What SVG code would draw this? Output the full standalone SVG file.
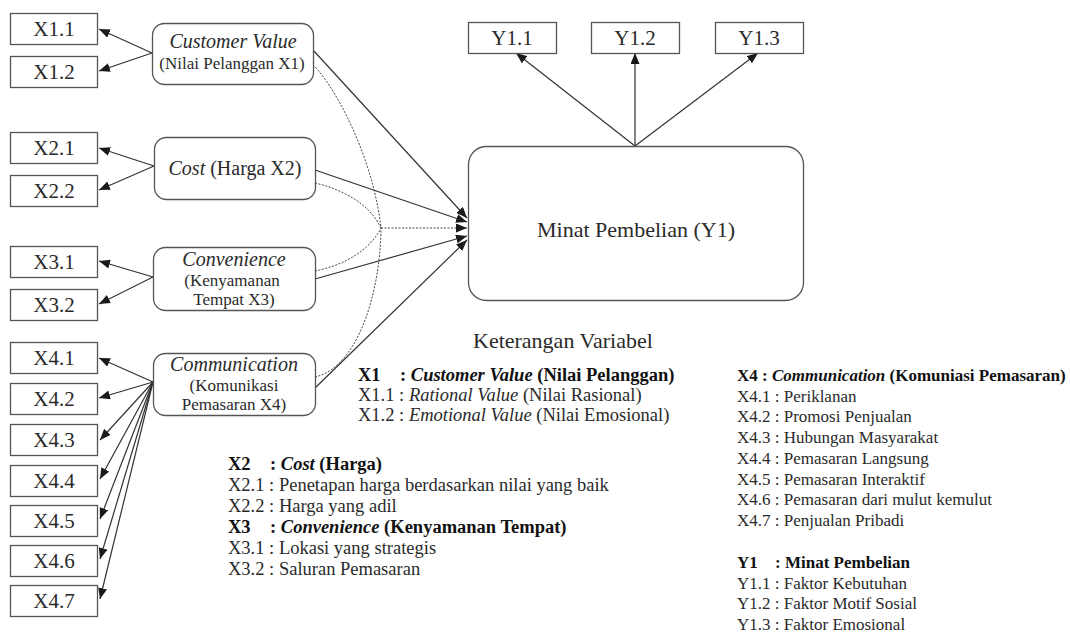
<svg xmlns="http://www.w3.org/2000/svg" width="1070" height="632" viewBox="0 0 1070 632">
<defs>
<style>
.box{fill:#fff;stroke:#555;stroke-width:1.3}
.node{fill:#fff;stroke:#555;stroke-width:1.3}
.t{font-family:"Liberation Serif","Times New Roman",serif;fill:#2a2a2a}
.bl{font-size:21px;text-anchor:middle}
.n1{font-size:20px;text-anchor:middle;font-style:italic}
.n2{font-size:17px;text-anchor:middle}
.lg{font-size:18.5px}
.lg2{font-size:17px}
.b{font-weight:bold;fill:#111}
.i{font-style:italic}
.ln{fill:none;stroke:#333;stroke-width:1.2}
.dt{fill:none;stroke:#444;stroke-width:1;stroke-dasharray:2 1.5}
</style>
<marker id="ah" markerUnits="userSpaceOnUse" markerWidth="12" markerHeight="9" refX="11" refY="4.5" orient="auto">
<path d="M0,0 L11,4.5 L0,9 z" fill="#1a1a1a"/>
</marker>
</defs>
<rect width="1070" height="632" fill="#fff"/>

<g id="connectors">
<line class="ln" x1="152" y1="53" x2="99" y2="29" marker-end="url(#ah)"/>
<line class="ln" x1="152" y1="53" x2="99" y2="71" marker-end="url(#ah)"/>
<line class="ln" x1="154" y1="166" x2="99" y2="148" marker-end="url(#ah)"/>
<line class="ln" x1="154" y1="166" x2="99" y2="190" marker-end="url(#ah)"/>
<line class="ln" x1="153" y1="277" x2="99" y2="261" marker-end="url(#ah)"/>
<line class="ln" x1="153" y1="277" x2="99" y2="304" marker-end="url(#ah)"/>
<line class="ln" x1="153" y1="382" x2="99" y2="358" marker-end="url(#ah)"/>
<line class="ln" x1="153" y1="382" x2="99" y2="398" marker-end="url(#ah)"/>
<line class="ln" x1="153" y1="382" x2="100" y2="440" marker-end="url(#ah)"/>
<line class="ln" x1="153" y1="382" x2="100" y2="479" marker-end="url(#ah)"/>
<line class="ln" x1="153" y1="382" x2="100" y2="519" marker-end="url(#ah)"/>
<line class="ln" x1="153" y1="382" x2="100" y2="559" marker-end="url(#ah)"/>
<line class="ln" x1="153" y1="382" x2="100" y2="599" marker-end="url(#ah)"/>
<line class="ln" x1="313" y1="50" x2="467" y2="218" marker-end="url(#ah)"/>
<line class="ln" x1="315" y1="170" x2="467" y2="222" marker-end="url(#ah)"/>
<line class="ln" x1="315" y1="279" x2="467" y2="236" marker-end="url(#ah)"/>
<line class="ln" x1="315" y1="388" x2="467" y2="240" marker-end="url(#ah)"/>
<path class="dt" d="M313,65 C330,80 372,150 381,228"/>
<path class="dt" d="M315,377 C355,368 380,300 381,228"/>
<path class="dt" d="M315,183 C345,190 370,205 381,228"/>
<path class="dt" d="M315,271 C345,265 370,250 381,228"/>
<line class="dt" x1="381" y1="228" x2="467" y2="228" marker-end="url(#ah)"/>
<line class="ln" x1="635" y1="146" x2="516" y2="53" marker-end="url(#ah)"/>
<line class="ln" x1="635" y1="146" x2="635" y2="53" marker-end="url(#ah)"/>
<line class="ln" x1="635" y1="146" x2="758" y2="53" marker-end="url(#ah)"/>
</g>

<g id="n-x11"><rect class="box" x="10.5" y="13.5" width="87" height="31"/><text class="t bl" x="54" y="36">X1.1</text></g>
<g id="n-x12"><rect class="box" x="10.5" y="56.5" width="87" height="31"/><text class="t bl" x="54" y="79">X1.2</text></g>
<g id="n-x21"><rect class="box" x="10.5" y="132.5" width="87" height="31"/><text class="t bl" x="54" y="155">X2.1</text></g>
<g id="n-x22"><rect class="box" x="10.5" y="175.5" width="87" height="31"/><text class="t bl" x="54" y="198">X2.2</text></g>
<g id="n-x31"><rect class="box" x="10.5" y="246.5" width="87" height="31"/><text class="t bl" x="54" y="269">X3.1</text></g>
<g id="n-x32"><rect class="box" x="10.5" y="289.5" width="87" height="31"/><text class="t bl" x="54" y="312">X3.2</text></g>
<g id="n-x41"><rect class="box" x="10.5" y="342.5" width="87" height="31"/><text class="t bl" x="54" y="365">X4.1</text></g>
<g id="n-x42"><rect class="box" x="10.5" y="383.5" width="87" height="31"/><text class="t bl" x="54" y="406">X4.2</text></g>
<g id="n-x43"><rect class="box" x="10.5" y="424.5" width="87" height="31"/><text class="t bl" x="54" y="447">X4.3</text></g>
<g id="n-x44"><rect class="box" x="10.5" y="465.5" width="87" height="31"/><text class="t bl" x="54" y="488">X4.4</text></g>
<g id="n-x45"><rect class="box" x="10.5" y="505.5" width="87" height="31"/><text class="t bl" x="54" y="528">X4.5</text></g>
<g id="n-x46"><rect class="box" x="10.5" y="545.5" width="87" height="31"/><text class="t bl" x="54" y="568">X4.6</text></g>
<g id="n-x47"><rect class="box" x="10.5" y="585.5" width="87" height="31"/><text class="t bl" x="54" y="608">X4.7</text></g>

<g id="n-x1"><rect class="node" x="152.5" y="23.5" width="161" height="61" rx="12"/>
<text class="t n1" x="233" y="48">Customer Value</text><text class="t n2" x="232" y="69">(Nilai Pelanggan X1)</text></g>
<g id="n-x2"><rect class="node" x="154.5" y="137.5" width="161" height="62" rx="12"/>
<text class="t" x="235" y="175" style="font-size:20px;text-anchor:middle"><tspan class="i">Cost</tspan> (Harga X2)</text></g>
<g id="n-x3"><rect class="node" x="153.5" y="247.5" width="162" height="63" rx="12"/>
<text class="t n1" x="234" y="266">Convenience</text><text class="t n2" x="232" y="286">(Kenyamanan</text><text class="t n2" x="234" y="305">Tempat X3)</text></g>
<g id="n-x4"><rect class="node" x="153.5" y="353.5" width="162" height="62" rx="12"/>
<text class="t n1" x="234" y="371">Communication</text><text class="t n2" x="234" y="391">(Komunikasi</text><text class="t n2" x="234" y="410">Pemasaran X4)</text></g>

<g id="n-y1"><rect class="node" x="468.5" y="146.5" width="335" height="154" rx="18"/>
<text class="t" x="636" y="237" style="font-size:22px;text-anchor:middle">Minat Pembelian (Y1)</text></g>
<g id="n-y11"><rect class="box" x="468.5" y="22.5" width="88" height="31"/><text class="t bl" x="512" y="45">Y1.1</text></g>
<g id="n-y12"><rect class="box" x="591.5" y="22.5" width="88" height="31"/><text class="t bl" x="635" y="45">Y1.2</text></g>
<g id="n-y13"><rect class="box" x="715.5" y="22.5" width="88" height="31"/><text class="t bl" x="759" y="45">Y1.3</text></g>

<g id="legend">
<text class="t" x="473" y="348" style="font-size:22px">Keterangan Variabel</text>
<text class="t lg b" x="358" y="381">X1<tspan x="400">: <tspan class="i">Customer Value</tspan> (Nilai Pelanggan)</tspan></text>
<text class="t lg" x="358" y="401">X1.1 : <tspan class="i">Rational Value</tspan> (Nilai Rasional)</text>
<text class="t lg" x="358" y="421">X1.2 : <tspan class="i">Emotional Value</tspan> (Nilai Emosional)</text>

<text class="t lg b" x="228" y="470">X2<tspan x="270">: <tspan class="i">Cost</tspan> (Harga)</tspan></text>
<text class="t lg" x="228" y="491">X2.1 : Penetapan harga berdasarkan nilai yang baik</text>
<text class="t lg" x="228" y="512">X2.2 : Harga yang adil</text>
<text class="t lg b" x="228" y="533">X3<tspan x="270">: <tspan class="i">Convenience</tspan> (Kenyamanan Tempat)</tspan></text>
<text class="t lg" x="228" y="554">X3.1 : Lokasi yang strategis</text>
<text class="t lg" x="228" y="575">X3.2 : Saluran Pemasaran</text>

<text class="t lg2 b" x="737" y="381">X4 : <tspan class="i">Communication</tspan> (Komuniasi Pemasaran)</text>
<text class="t lg2" x="737" y="402">X4.1 : Periklanan</text>
<text class="t lg2" x="737" y="422">X4.2 : Promosi Penjualan</text>
<text class="t lg2" x="737" y="443">X4.3 : Hubungan Masyarakat</text>
<text class="t lg2" x="737" y="464">X4.4 : Pemasaran Langsung</text>
<text class="t lg2" x="737" y="485">X4.5 : Pemasaran Interaktif</text>
<text class="t lg2" x="737" y="505">X4.6 : Pemasaran dari mulut kemulut</text>
<text class="t lg2" x="737" y="526">X4.7 : Penjualan Pribadi</text>
<text class="t lg2 b" x="737" y="568">Y1<tspan x="775">: Minat Pembelian</tspan></text>
<text class="t lg2" x="737" y="589">Y1.1 : Faktor Kebutuhan</text>
<text class="t lg2" x="737" y="609">Y1.2 : Faktor Motif Sosial</text>
<text class="t lg2" x="737" y="630">Y1.3 : Faktor Emosional</text>
</g>
</svg>
